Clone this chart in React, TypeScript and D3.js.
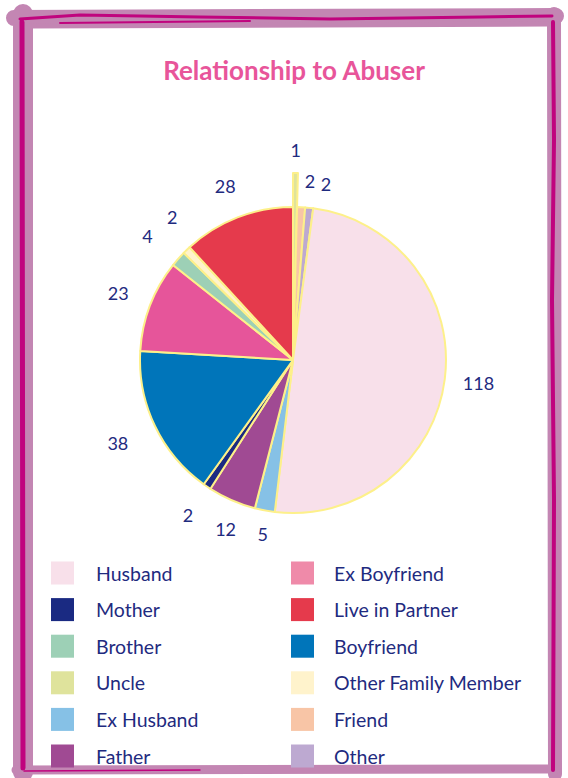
import * as d3 from 'd3';

// pie order, clockwise from 12 o'clock
const sliceNames = ['Uncle', 'Friend', 'Other', 'Husband', 'Ex Husband', 'Father', 'Mother',
    'Boyfriend', 'Ex Boyfriend', 'Brother', 'Other Family Member', 'Live in Partner'];
const sliceValues = [1, 2, 2, 118, 5, 12, 2, 38, 23, 4, 2, 28];

const legendLeft = ['Husband', 'Mother', 'Brother', 'Uncle', 'Ex Husband', 'Father'];
const legendRight = ['Ex Boyfriend', 'Live in Partner', 'Boyfriend', 'Other Family Member', 'Friend', 'Other'];

const colors: Record<string, string> = {
    'Husband': '#f8e0ea',
    'Mother': '#1a2a82',
    'Brother': '#9dd0b6',
    'Uncle': '#dfe39c',
    'Ex Husband': '#86c1e6',
    'Father': '#a04a93',
    'Ex Boyfriend': '#e6559a',
    'Live in Partner': '#e53a4c',
    'Boyfriend': '#0075ba',
    'Other Family Member': '#fff3cc',
    'Friend': '#f8c5a6',
    'Other': '#bda9d1',
};
// legend swatch for ex boyfriend is lighter than its slice
const legendColors: Record<string, string> = { ...colors, 'Ex Boyfriend': '#ef8aa9' };

// small nudges so the labels of thin slices don't collide (degrees, px)
const labelNudge: Record<string, [number, number]> = {
    'Uncle': [0, 23],
    'Friend': [2.4, -7],
    'Other': [4.5, -8],
    'Ex Husband': [-0.8, -10],
    'Father': [-1.8, -5],
    'Brother': [-1, 4],
    'Other Family Member': [3.8, 0],
    '38': [0, 7],
};

const navy = '#1f2b7f';
const font = 'Lato, "Open Sans", sans-serif';

function Frame() {
    const mauve = '#c386b3';
    const mag = '#c0047e';
    return (
        <g fill="none" strokeLinecap="round">
            {/* wide mauve bands */}
            <path d="M23,14 L23,772" stroke={mauve} strokeWidth={20} />
            <path d="M14,18 L556,16" stroke={mauve} strokeWidth={16} />
            <path d="M554,14 L555,774" stroke={mauve} strokeWidth={14} />
            <path d="M16,770 L556,769" stroke={mauve} strokeWidth={9} />
            <path d="M30,26 L548,24" stroke={mauve} strokeWidth={5} />
            {/* magenta strokes */}
            <path d="M22,22 L23,768" stroke={mag} strokeWidth={5} />
            <path d="M20,19 L80,15 L200,17 L330,19 L480,17 L552,16" stroke={mag} strokeWidth={3} />
            <path d="M60,23 L250,21" stroke={mag} strokeWidth={2} />
            <path d="M553,22 L554,140 L552,300 L554,500 L553,770" stroke={mag} strokeWidth={4} />
            <path d="M24,771 L200,770" stroke={mag} strokeWidth={1.5} />
        </g>
    );
}

export default function App() {
    const width = 568;
    const height = 778;
    const cx = 293;
    const cy = 360;
    const r = 153;
    const labelR = 187;

    const pie = d3.pie<number>().sort(null).value(d => d);
    const arcs = pie(sliceValues);
    const arc = d3.arc<d3.PieArcDatum<number>>().innerRadius(0);

    const rowY = d3.scalePoint<number>().domain(d3.range(6)).range([573, 756]);

    return (
        <svg width={width} height={height} style={{ position: 'absolute', left: 0, top: 0 }}>
            <rect width={width} height={height} fill="#fff" />
            <Frame />
            <text x={294} y={70} textAnchor="middle" dominantBaseline="central"
                fontFamily={font} fontWeight={700} fontSize={26} fill="#e8559a">
                Relationship to Abuser
            </text>
            <g transform={`translate(${cx},${cy})`}>
                {arcs.map((a, i) => (
                    <path key={i}
                        d={arc.outerRadius(sliceNames[i] === 'Uncle' ? 187 : r)(a) ?? ''}
                        fill={colors[sliceNames[i]]}
                        stroke="#fdf08a" strokeWidth={2} strokeLinejoin="round" />
                ))}
                {arcs.map((a, i) => {
                    const name = sliceNames[i];
                    const [dA, dR] = labelNudge[name] ?? (name === 'Boyfriend' ? labelNudge['38'] : [0, 0]);
                    const ang = (a.startAngle + a.endAngle) / 2 + (dA * Math.PI) / 180;
                    const rr = labelR + dR;
                    return (
                        <text key={i} x={Math.sin(ang) * rr} y={-Math.cos(ang) * rr}
                            textAnchor="middle" dominantBaseline="central"
                            fontFamily={font} fontSize={18} fill={navy}>
                            {sliceValues[i]}
                        </text>
                    );
                })}
            </g>
            {[legendLeft, legendRight].map((col, c) => (
                <g key={c}>
                    {col.map((name, i) => (
                        <g key={name}>
                            <rect x={c === 0 ? 51 : 291} y={rowY(i)! - 11.5} width={23} height={23}
                                fill={legendColors[name]} />
                            <text x={c === 0 ? 96 : 334} y={rowY(i)} dominantBaseline="central"
                                fontFamily={font} fontSize={19.5} fill={navy}>
                                {name}
                            </text>
                        </g>
                    ))}
                </g>
            ))}
        </svg>
    );
}
